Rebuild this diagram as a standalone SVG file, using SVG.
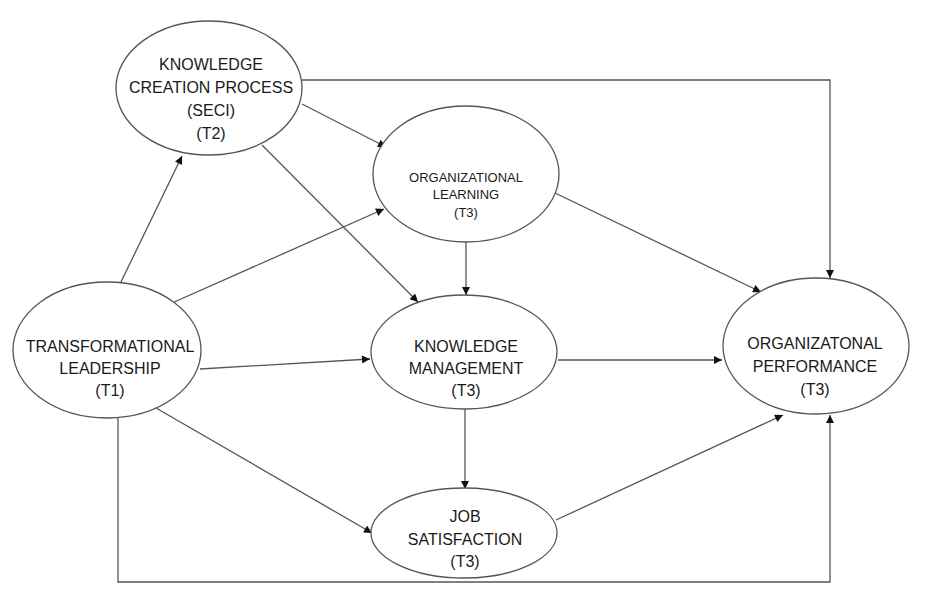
<svg xmlns="http://www.w3.org/2000/svg" width="925" height="606" viewBox="0 0 925 606">
<defs>
<marker id="arr" viewBox="0 0 10 10" refX="10" refY="5" markerWidth="9" markerHeight="8" markerUnits="userSpaceOnUse" orient="auto">
<path d="M0,0 L10,5 L0,10 z" fill="#111"/>
</marker>
<style>
.node ellipse{fill:#fff;stroke:#555;stroke-width:1.3}
.node text{font-family:"Liberation Sans",Arial,sans-serif;fill:#1a1a1a;text-anchor:middle}
.t16{font-size:16px}
.t13{font-size:13px}
#connectors path,#connectors line{fill:none;stroke:#555;stroke-width:1.3;marker-end:url(#arr)}
</style>
</defs>
<rect width="925" height="606" fill="#fff"/>
<g id="connectors">
<line x1="120" y1="284" x2="182" y2="156"/>
<line x1="172" y1="303" x2="384" y2="209"/>
<line x1="200" y1="369" x2="370" y2="359"/>
<line x1="156" y1="408" x2="372" y2="533"/>
<path d="M118,416 L118,582 L830,582 L830,415"/>
<line x1="302" y1="104" x2="386" y2="147"/>
<line x1="262" y1="145" x2="418" y2="302"/>
<path d="M302,80 L830,80 L830,278"/>
<line x1="466" y1="242" x2="466" y2="295"/>
<line x1="555" y1="193" x2="761" y2="292"/>
<line x1="558" y1="360" x2="722" y2="360"/>
<line x1="465" y1="408" x2="465" y2="489"/>
<line x1="556" y1="520" x2="783" y2="415"/>
</g>
<g id="kcp" class="node">
<ellipse cx="209" cy="88" rx="93" ry="67"/>
<text class="t16" x="211" y="70">KNOWLEDGE</text>
<text class="t16" x="211" y="93">CREATION PROCESS</text>
<text class="t16" x="211" y="116">(SECI)</text>
<text class="t16" x="211" y="139">(T2)</text>
</g>
<g id="ol" class="node">
<ellipse cx="466" cy="174" rx="93" ry="68"/>
<text class="t13" x="466" y="182">ORGANIZATIONAL</text>
<text class="t13" x="466" y="199">LEARNING</text>
<text class="t13" x="466" y="217">(T3)</text>
</g>
<g id="tl" class="node">
<ellipse cx="107" cy="350" rx="94" ry="68"/>
<text class="t16" x="110" y="352">TRANSFORMATIONAL</text>
<text class="t16" x="110" y="374">LEADERSHIP</text>
<text class="t16" x="110" y="396">(T1)</text>
</g>
<g id="km" class="node">
<ellipse cx="464" cy="352" rx="93" ry="57"/>
<text class="t16" x="466" y="352">KNOWLEDGE</text>
<text class="t16" x="466" y="374">MANAGEMENT</text>
<text class="t16" x="466" y="396">(T3)</text>
</g>
<g id="js" class="node">
<ellipse cx="464" cy="533" rx="93" ry="45"/>
<text class="t16" x="465" y="522">JOB</text>
<text class="t16" x="465" y="545">SATISFACTION</text>
<text class="t16" x="465" y="567">(T3)</text>
</g>
<g id="op" class="node">
<ellipse cx="816" cy="346" rx="93" ry="68"/>
<text class="t16" x="815" y="349">ORGANIZATONAL</text>
<text class="t16" x="815" y="372">PERFORMANCE</text>
<text class="t16" x="815" y="395">(T3)</text>
</g>
</svg>
